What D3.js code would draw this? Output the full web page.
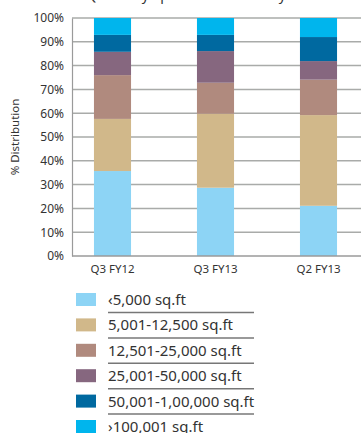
<!DOCTYPE html>
<html><head><meta charset="utf-8">
<script src="https://d3js.org/d3.v7.min.js"></script>
<style>body{margin:0;background:#fff}svg{display:block}</style>
</head><body>
<script>
const categories = ["Q3 FY12", "Q3 FY13", "Q2 FY13"];
const seriesNames = ["‹5,000 sq.ft", "5,001-12,500 sq.ft", "12,501-25,000 sq.ft", "25,001-50,000 sq.ft", "50,001-1,00,000 sq.ft", "›100,001 sq.ft"];
const lt5000 = [35.7, 28.7, 21.1];
const s5to12 = [21.9, 31.1, 38.1];
const s12to25 = [18.4, 13.0, 14.9];
const s25to50 = [9.8, 13.3, 7.8];
const s50to100 = [7.1, 6.8, 10.1];
const gt100 = [7.1, 7.1, 8.0];
const yTicks = [0, 10, 20, 30, 40, 50, 60, 70, 80, 90, 100];
const colors = ["#8dd4f5", "#d1b88a", "#b08a7e", "#86677f", "#0069a0", "#00b5ed"];
const titleText = "Share of Quarterly Space Transacted by Size of Deal";

const W = 361, H = 433;
const svg = d3.select("body").append("svg").attr("width", W).attr("height", H);
const font = "'Noto Sans', sans-serif";

const series = [lt5000, s5to12, s12to25, s25to50, s50to100, gt100];
const rows = categories.map((c, i) => {
  const r = {cat: c};
  seriesNames.forEach((s, k) => r[s] = series[k][i]);
  return r;
});
const stacked = d3.stack().keys(seriesNames)(rows);

const y = d3.scaleLinear().domain([0, 100]).range([256, 18]);
const x = d3.scaleBand().domain(categories).range([61, 370]).paddingInner(0.64).paddingOuter(0.32);
const plotL = 72, plotR = 361;

// clipped title
svg.append("text").attr("x", 28).attr("y", 0).attr("font-family", font).attr("font-size", 14)
  .attr("fill", "#333").text(titleText);

// gridlines
svg.append("g").selectAll("line").data(yTicks.filter(d => d > 0)).join("line")
  .attr("x1", plotL).attr("x2", plotR).attr("y1", d => y(d)).attr("y2", d => y(d))
  .attr("stroke", "#a9aba9").attr("stroke-width", 1.5);

// bars
svg.append("g").selectAll("g").data(stacked).join("g").attr("fill", (d, i) => colors[i])
  .selectAll("rect").data(d => d).join("rect")
  .attr("x", d => x(d.data.cat)).attr("width", x.bandwidth())
  .attr("y", d => y(d[1])).attr("height", d => y(d[0]) - y(d[1]));

// y axis
const ya = svg.append("g").attr("transform", `translate(${plotL},0)`)
  .call(d3.axisLeft(y).tickValues(yTicks).tickFormat(d => d + "%").tickSize(0).tickPadding(8));
ya.select(".domain").attr("stroke", "#9a9a9a").attr("stroke-width", 1.2);
ya.selectAll("text").attr("font-family", font).attr("font-size", 12).attr("fill", "#333");

// x axis baseline
svg.append("line").attr("x1", plotL).attr("x2", plotR).attr("y1", y(0)).attr("y2", y(0))
  .attr("stroke", "#9a9a9a").attr("stroke-width", 1.5);
const xa = svg.append("g").attr("transform", `translate(0,${y(0)})`)
  .call(d3.axisBottom(x).tickSize(0).tickPadding(9));
xa.select(".domain").remove();
xa.selectAll("text").attr("font-family", font).attr("font-size", 11.5).attr("fill", "#333");

// y title
svg.append("text").attr("transform", "translate(19,137) rotate(-90)").attr("text-anchor", "middle")
  .attr("font-family", font).attr("font-size", 11.5).attr("fill", "#333").text("% Distribution");

// legend
const lg = svg.append("g").selectAll("g").data(seriesNames).join("g")
  .attr("transform", (d, i) => `translate(76,${293 + i * 25.4})`);
lg.append("rect").attr("width", 20).attr("height", 13).attr("fill", (d, i) => colors[i]);
lg.append("text").attr("x", 32).attr("y", 12).attr("font-family", font).attr("font-size", 15)
  .attr("fill", "#333").text(d => d);
lg.filter((d, i) => i < seriesNames.length - 1).append("line")
  .attr("x1", 32).attr("x2", 178).attr("y1", 19.5).attr("y2", 19.5)
  .attr("stroke", "#777").attr("stroke-width", 1.5);
</script>
</body></html>
